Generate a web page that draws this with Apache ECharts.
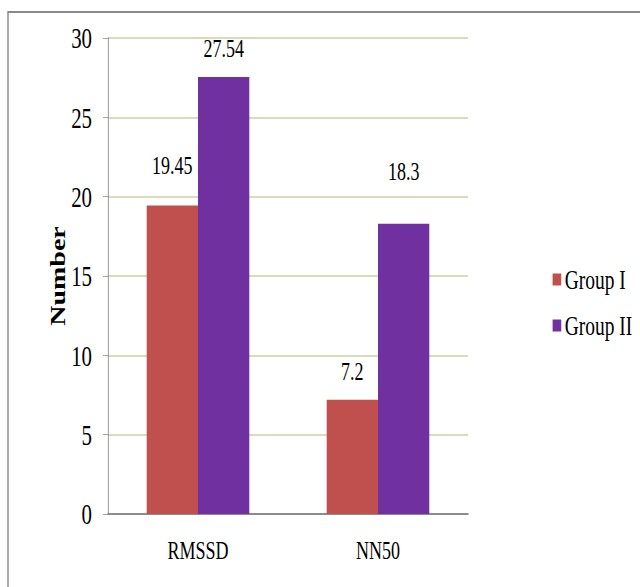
<!DOCTYPE html>
<html>
<head>
<meta charset="utf-8">
<script src="https://cdn.jsdelivr.net/npm/echarts@6/dist/echarts.min.js"></script>
<style>
  html, body { margin: 0; padding: 0; background: #fff; overflow: hidden; }
  #wrap { width: 640px; height: 587px; overflow: hidden; position: relative; }
  /* The chart is laid out wide and squeezed horizontally to get the condensed serif look */
  #chart { position: absolute; left: 0; top: 0; height: 587px; transform-origin: 0 0; }
</style>
</head>
<body>
<div id="wrap"><div id="chart"></div></div>
<script>
// Chart data
const categories = ['RMSSD', 'NN50'];
const groupI = [19.45, 7.2];
const groupII = [27.54, 18.3];
const seriesNames = ['Group I', 'Group II'];
const yAxisTitle = 'Number';

// Horizontal squeeze factor and the wide drawing width it implies
const SX = 0.72;
const W = 640 / SX;
const H = 587;
const X = px => px / SX;   // page x -> wide chart x

const el = document.getElementById('chart');
el.style.width = W + 'px';
el.style.transform = 'scaleX(' + SX + ')';

const FONT = '"Liberation Serif", "Times New Roman", serif';

// vertical gap between each value label and its bar top
const labelGapI = [27, 15];
const labelGapII = [16, 39];

function withLabels(values, gaps) {
  return values.map((v, i) => ({
    value: v,
    label: { distance: gaps[i] }
  }));
}

const chart = echarts.init(el, null, { renderer: 'svg', width: W, height: H });

chart.setOption({
  animation: false,
  backgroundColor: '#ffffff',
  textStyle: { fontFamily: FONT, color: '#000' },
  graphic: [{
    type: 'polyline',
    shape: { points: [[X(8), H + 5], [X(8), 12], [W + 5, 12]] },
    style: { stroke: '#8a8a8a', lineWidth: 2, fill: null },
    silent: true
  }],
  legend: {
    orient: 'vertical',
    left: X(549),
    top: 261,
    itemWidth: 12,
    itemHeight: 12,
    itemGap: 19,
    icon: 'rect',
    textStyle: { fontFamily: FONT, fontSize: 27, color: '#000' },
    data: seriesNames
  },
  grid: {
    left: X(108),
    right: W - X(468),
    top: 38,
    bottom: H - 514,
    containLabel: false
  },
  xAxis: {
    type: 'category',
    data: categories,
    axisLine: { show: true, lineStyle: { color: '#8c8c8c', width: 2 } },
    axisTick: { show: false },
    axisLabel: { fontFamily: FONT, fontSize: 25, color: '#000', margin: 24 },
    splitLine: { show: false }
  },
  yAxis: {
    type: 'value',
    min: 0,
    max: 30,
    interval: 5,
    name: yAxisTitle,
    nameLocation: 'middle',
    nameRotate: 90,
    nameGap: X(40),
    nameMoveOverlap: false,
    nameTextStyle: { fontFamily: FONT, fontSize: 28, fontWeight: 'bold', color: '#000' },
    axisLine: { show: true, lineStyle: { color: '#888888', width: 1 } },
    axisTick: { show: true, inside: false, length: X(5), lineStyle: { color: '#9a9a8a' } },
    axisLabel: { fontFamily: FONT, fontSize: 29, color: '#000', margin: X(16) },
    splitLine: { show: true, lineStyle: { color: '#d2cca4', width: 1.5 } }
  },
  series: [
    {
      name: seriesNames[0],
      type: 'bar',
      data: withLabels(groupI, labelGapI),
      barGap: '0%',
      barCategoryGap: '43%',
      itemStyle: { color: '#C0504D' },
      label: { show: true, position: 'top', fontFamily: FONT, fontSize: 25, color: '#000' }
    },
    {
      name: seriesNames[1],
      type: 'bar',
      data: withLabels(groupII, labelGapII),
      barGap: '0%',
      barCategoryGap: '43%',
      itemStyle: { color: '#7030A0' },
      label: { show: true, position: 'top', fontFamily: FONT, fontSize: 25, color: '#000' }
    }
  ]
});
</script>
</body>
</html>
